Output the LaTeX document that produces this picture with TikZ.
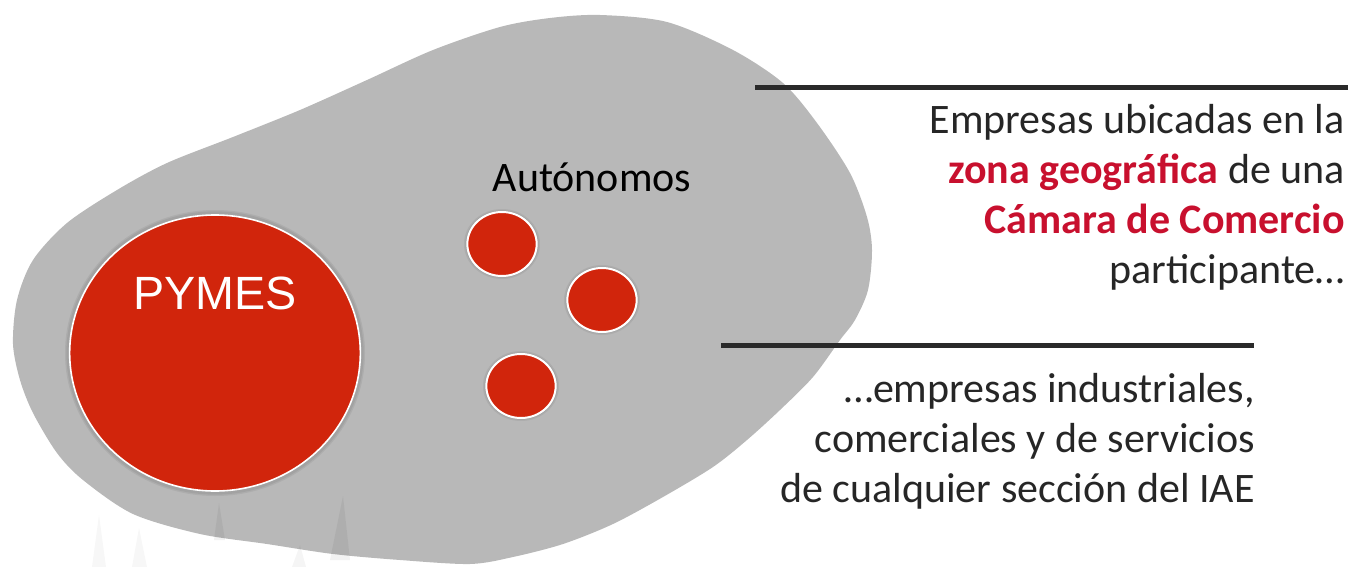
\documentclass[tikz,border=0pt]{standalone}
\usepackage{fontspec}
\setmainfont{Carlito}
\newfontfamily\arialf{Liberation Sans}
\usetikzlibrary{shapes.geometric}
\definecolor{blobgray}{HTML}{B8B8B8}
\definecolor{dotred}{HTML}{D1250C}
\definecolor{textred}{HTML}{C8102E}
\definecolor{textdark}{HTML}{262626}
\definecolor{rulecol}{HTML}{2A2A2A}
\tikzset{
  dot/.style={ellipse, fill=dotred, draw=white, line width=1.5pt,
    minimum width=52pt, minimum height=48pt, inner sep=0pt},
  bigdot/.style={ellipse, fill=dotred, draw=white, line width=1.2pt,
    minimum width=218pt, minimum height=207pt, inner sep=0pt},
  halo/.style={fill=black, opacity=0.06},
  body/.style={font=\fontsize{31.5}{37.5}\selectfont, text=textdark, inner sep=0pt},
  rulebar/.style={draw=rulecol, line width=3.75pt},
}
\begin{document}
\begin{tikzpicture}[x=0.75pt, y=-0.75pt]
\useasboundingbox (0,0) rectangle (1352,567);
\clip (0,0) rectangle (1352,567);
% blob
\fill[blobgray] plot[smooth cycle, tension=0.5] coordinates {
 (600,15) (667,22) (733,50) (783,83) (817,123) (850,173) (867,217)
 (872,250) (868,290) (855,320) (840,340) (813,377) (780,410) (747,440)
 (713,467) (663,497) (613,524) (563,544) (513,557) (470,564) (400,560)
 (333,554) (267,544) (200,534) (133,514) (83,480) (57,453) (33,413)
 (20,380) (13,344) (17,300) (33,260) (67,223) (117,190) (167,163)
 (233,137) (300,110) (367,80) (433,50) (500,27) (550,18)};
% faint ghost spikes
\fill[black, opacity=0.05] (214,540) -- (219,503) -- (225,540) -- cycle;
\fill[black, opacity=0.05] (330,560) -- (343,496) -- (350,560) -- cycle;
\fill[black, opacity=0.04] (292,567) -- (300,545) -- (306,567) -- cycle;
\fill[black, opacity=0.03] (92,567) -- (99,515) -- (106,567) -- cycle;
\fill[black, opacity=0.03] (132,567) -- (139,528) -- (147,567) -- cycle;
% halos
\foreach \cx/\cy/\rx/\ry in {215/353/150/143, 502/244/38/35, 602/300/38/35, 521/386/38/35}{
  \fill[halo] (\cx,\cy) ellipse [x radius=\rx*0.75pt, y radius=\ry*0.75pt];
  \fill[halo] (\cx,\cy) ellipse [x radius=\rx*0.75pt-1pt, y radius=\ry*0.75pt-1pt];
}
% circles
\node[bigdot] (pymes) at (215,353) {};
\node[font=\arialf\fontsize{35}{40}\selectfont, text=white, inner sep=0pt, anchor=base] (pymeslabel) at (215,309) {PYMES};
\node[dot] (a1) at (502,244) {};
\node[dot] (a2) at (602,300) {};
\node[dot] (a3) at (521,386) {};
\node[body, text=black, anchor=base] (auto) at (592,191) {Autónomos};
% rules
\coordinate (r1a) at (755,88);
\coordinate (r1b) at (1348,88);
\coordinate (r2a) at (721,345);
\coordinate (r2b) at (1254,345);
\draw[rulebar] (r1a) -- (r1b);
\draw[rulebar] (r2a) -- (r2b);
% texts (base anchor = last line)
\node[body, align=right, anchor=base east] (t1) at (1345,283)
  {Empresas ubicadas en la\\
   {\bfseries\color{textred}zona geográfica} de una\\
   {\bfseries\color{textred}Cámara de Comercio}\\
   participante…};
\node[body, align=right, anchor=base east] (t2) at (1255,502)
  {…empresas industriales,\\
   comerciales y de servicios\\
   de cualquier sección del IAE};
\end{tikzpicture}
\end{document}
